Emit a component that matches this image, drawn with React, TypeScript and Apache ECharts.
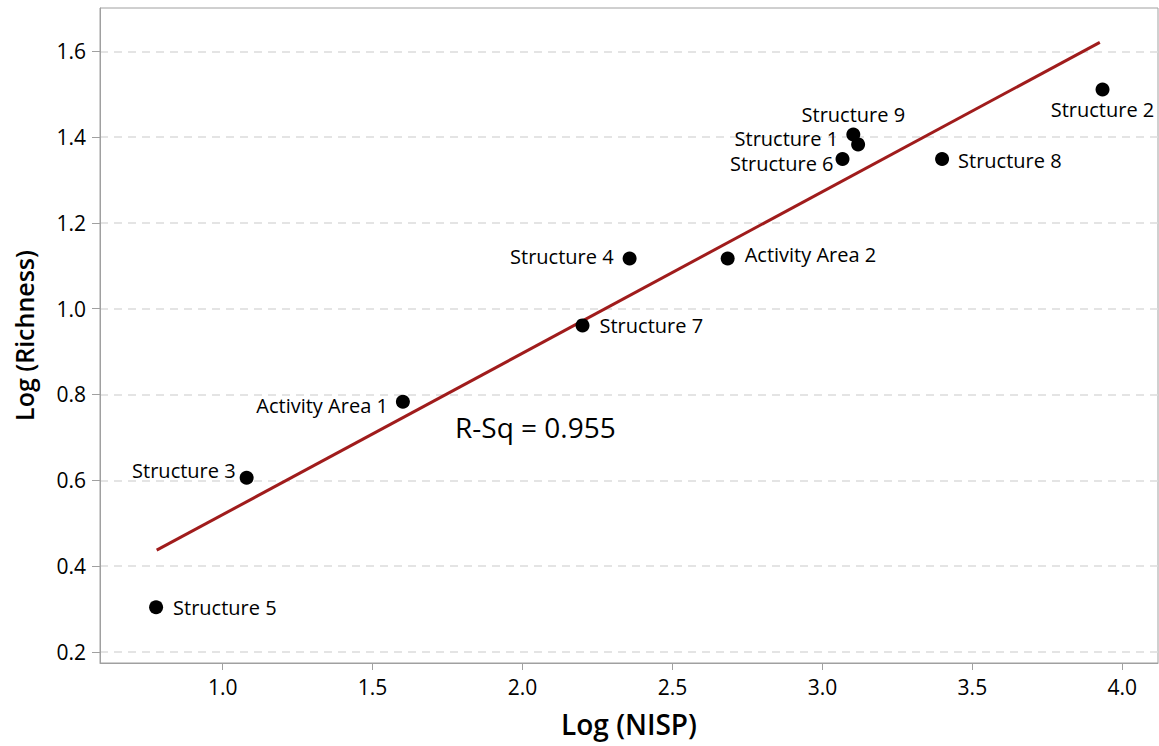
import React, { useEffect, useRef } from "react";
import * as echarts from "echarts";

const names = [
  "Structure 5", "Structure 3", "Activity Area 1", "Structure 7", "Structure 4",
  "Activity Area 2", "Structure 6", "Structure 9", "Structure 1", "Structure 8", "Structure 2",
];
const logNISP = [0.778, 1.08, 1.601, 2.2, 2.357, 2.684, 3.067, 3.103, 3.119, 3.399, 3.934];
const logRichness = [0.304, 0.606, 0.783, 0.961, 1.117, 1.117, 1.349, 1.406, 1.383, 1.349, 1.511];
const fitX = [0.78, 3.925];
const fitY = [0.437, 1.621];
const xTicks = [1.0, 1.5, 2.0, 2.5, 3.0, 3.5, 4.0];
const yTicks = [0.2, 0.4, 0.6, 0.8, 1.0, 1.2, 1.4, 1.6];
const rSqText = "R-Sq = 0.955";

const FONT = "'Open Sans', 'Noto Sans', sans-serif";

export default function App() {
  const ref = useRef<HTMLDivElement>(null);
  useEffect(() => {
    if (!ref.current) return;
    const chart = echarts.init(ref.current, null, { renderer: "svg" });

    const place = (n: string): any => {
      switch (n) {
        case "Structure 5": return { position: "right", distance: 10 };
        case "Structure 3": return { position: "left", distance: 4, offset: [0, -7] };
        case "Activity Area 1": return { position: "left", distance: 8, offset: [0, 4] };
        case "Structure 7": return { position: "right", distance: 10 };
        case "Structure 4": return { position: "left", distance: 9, offset: [0, -2] };
        case "Activity Area 2": return { position: "right", distance: 10, offset: [0, -4] };
        case "Structure 6": return { position: "left", distance: 2, offset: [0, 5] };
        case "Structure 9": return { position: "top", distance: 3 };
        case "Structure 1": return { position: "left", distance: 13, offset: [0, -6] };
        case "Structure 8": return { position: "right", distance: 9, offset: [0, 2] };
        case "Structure 2": return { position: "bottom", distance: 3 };
        default: return { position: "right" };
      }
    };

    const pts = names.map((n, i) => ({
      value: [logNISP[i], logRichness[i]],
      name: n,
      label: { show: true, formatter: n, ...place(n) },
    }));

    chart.setOption({
      animation: false,
      textStyle: { fontFamily: FONT },
      grid: {
        left: 100, top: 8, right: 1, bottom: 83,
        show: true, borderColor: "#a0a0a0", borderWidth: 1, backgroundColor: "#fff",
      },
      xAxis: {
        type: "value",
        min: 0.591, max: 4.119,
        name: "Log (NISP)", nameLocation: "middle", nameGap: 47,
        nameTextStyle: { fontSize: 28, fontWeight: 600, color: "#000", fontFamily: FONT },
        axisLine: { show: true, onZero: false, lineStyle: { color: "#a0a0a0" } },
        axisTick: { show: true, length: 7, lineStyle: { color: "#a0a0a0" }, customValues: xTicks },
        axisLabel: {
          fontSize: 21, color: "#000", margin: 13, fontFamily: FONT,
          customValues: xTicks,
          formatter: (v: number) => v.toFixed(1),
        },
        splitLine: { show: false },
      },
      yAxis: {
        type: "value",
        min: 0.174, max: 1.701,
        name: "Log (Richness)", nameLocation: "middle", nameGap: 64,
        nameTextStyle: { fontSize: 25, fontWeight: 600, color: "#000", fontFamily: FONT },
        axisLine: { show: true, onZero: false, lineStyle: { color: "#a0a0a0" } },
        axisTick: { show: true, length: 8, lineStyle: { color: "#a0a0a0" }, customValues: yTicks },
        axisLabel: {
          fontSize: 21, color: "#000", margin: 14, fontFamily: FONT,
          customValues: yTicks,
          formatter: (v: number) => v.toFixed(1),
        },
        splitLine: { show: false },
      },
      series: [
        {
          type: "line",
          data: fitX.map((x, i) => [x, fitY[i]]),
          symbol: "none",
          lineStyle: { color: "#a01c1c", width: 3 },
          silent: true,
          z: 2,
          markLine: {
            silent: true,
            symbol: "none",
            label: { show: false },
            lineStyle: { color: "#dcdcdc", type: [8, 6], width: 1.5 },
            data: yTicks.map((v) => ({ yAxis: v })),
            z: 0,
          },
        },
        {
          type: "scatter",
          data: pts,
          symbolSize: 14,
          itemStyle: { color: "#000", opacity: 1 },
          label: { color: "#000", fontSize: 20, lineHeight: 20, fontFamily: FONT },
          z: 3,
        },
      ],
      graphic: [
        {
          type: "text",
          left: 455,
          top: 413,
          style: { text: rSqText, fontSize: 28, fill: "#000", fontFamily: FONT },
        },
      ],
    });
    return () => chart.dispose();
  }, []);
  return (
    <div
      ref={ref}
      style={{ position: "absolute", left: 0, top: 0, width: 1159, height: 746, background: "#fff" }}
    />
  );
}
